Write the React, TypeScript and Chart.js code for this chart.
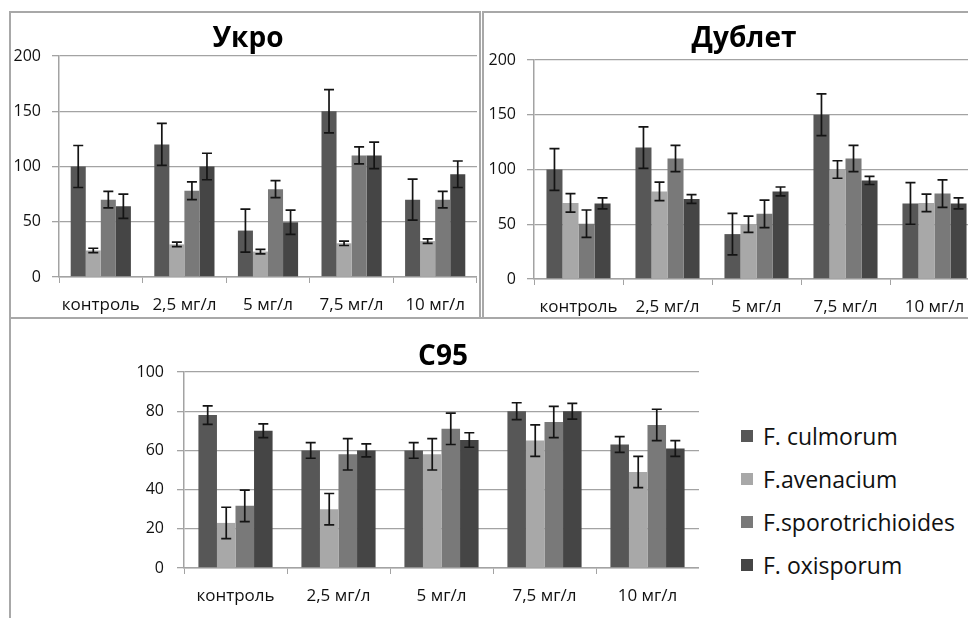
import React, { useEffect, useRef } from "react";
import { Chart, registerables } from "chart.js";

Chart.register(...registerables);

// ---------- data ----------
const categories = ["контроль", "2,5 мг/л", "5 мг/л", "7,5 мг/л", "10 мг/л"];
const seriesNames = ["F. culmorum", "F.avenacium", "F.sporotrichioides", "F. oxisporum"];
const seriesColors = ["#575757", "#a8a8a8", "#797979", "#454545"];

// Укро
const ukroCulmorum = [100, 120, 42, 150, 70];
const ukroCulmorumErr = [19, 19, 19.5, 19.5, 18.5];
const ukroAvenacium = [24, 29.5, 23, 30.5, 32.5];
const ukroAvenaciumErr = [2, 2, 2, 2, 2];
const ukroSporotrichioides = [70, 78, 79.5, 110, 70];
const ukroSporotrichioidesErr = [7.5, 8, 7.7, 7.7, 7.5];
const ukroOxisporum = [64, 100, 49.5, 110, 93];
const ukroOxisporumErr = [11, 12, 11, 12, 12];

// Дублет
const dubletCulmorum = [100, 120, 41, 150, 69];
const dubletCulmorumErr = [19, 19, 19, 19, 19];
const dubletAvenacium = [69.5, 80, 50, 100, 69.5];
const dubletAvenaciumErr = [8.5, 8.5, 7.5, 8, 8];
const dubletSporotrichioides = [50.5, 110, 59.5, 110, 78];
const dubletSporotrichioidesErr = [12.5, 12, 12.5, 12, 12.5];
const dubletOxisporum = [69, 73, 80, 90, 69];
const dubletOxisporumErr = [5, 4, 4, 3.7, 5];

// С95
const c95Culmorum = [78, 60, 60, 80, 63];
const c95CulmorumErr = [4.7, 4, 4, 4.3, 4];
const c95Avenacium = [23, 30, 58, 65, 49];
const c95AvenaciumErr = [8, 8, 8, 8, 8];
const c95Sporotrichioides = [31.7, 58, 71, 74.5, 73];
const c95SporotrichioidesErr = [8, 8, 8, 8, 8];
const c95Oxisporum = [70, 60, 65.3, 80, 61];
const c95OxisporumErr = [3.5, 3.3, 3.7, 4, 4];

const ukroTicks = [0, 50, 100, 150, 200];
const c95Ticks = [0, 20, 40, 60, 80, 100];

const FONT = "'Open Sans', 'Noto Sans', 'DejaVu Sans', sans-serif";
const GRID = "#a3a3a3";
const PAD_TOP = 24;

const errorBarPlugin = {
  id: "errorBars",
  afterDatasetsDraw(chart: any) {
    const ctx = chart.ctx;
    const yScale = chart.scales.y;
    ctx.save();
    ctx.strokeStyle = "#141414";
    ctx.lineWidth = 1.7;
    chart.data.datasets.forEach((ds: any, i: number) => {
      const meta = chart.getDatasetMeta(i);
      meta.data.forEach((el: any, j: number) => {
        const v = ds.data[j];
        const e = ds.errors[j];
        const x = el.x;
        const yt = yScale.getPixelForValue(v + e);
        const yb = yScale.getPixelForValue(v - e);
        ctx.beginPath();
        ctx.moveTo(x, yt);
        ctx.lineTo(x, yb);
        ctx.moveTo(x - 5, yt);
        ctx.lineTo(x + 5, yt);
        ctx.moveTo(x - 5, yb);
        ctx.lineTo(x + 5, yb);
        ctx.stroke();
      });
    });
    ctx.restore();
  },
};

type PanelProps = {
  left: number;
  areaTop: number;
  areaBottom: number;
  width: number;
  values: number[][];
  errors: number[][];
  ticks: number[];
  yPad: number;
};

function ChartPanel({ left, areaTop, areaBottom, width, values, errors, ticks, yPad }: PanelProps) {
  const ref = useRef<HTMLCanvasElement | null>(null);
  const top = areaTop - PAD_TOP;
  const height = areaBottom + 40 - top;
  useEffect(() => {
    if (!ref.current) return;
    const chart = new Chart(ref.current, {
      type: "bar",
      data: {
        labels: categories,
        datasets: values.map((vals, i) => ({
          label: seriesNames[i],
          data: vals,
          errors: errors[i],
          backgroundColor: seriesColors[i],
          borderWidth: 0,
          categoryPercentage: 0.72,
          barPercentage: 1,
        })) as any,
      },
      options: {
        responsive: false,
        animation: false,
        layout: { padding: { top: PAD_TOP, left: 0, right: 0, bottom: 0 } },
        plugins: { legend: { display: false }, title: { display: false }, tooltip: { enabled: false } },
        scales: {
          x: {
            grid: { drawOnChartArea: false, drawTicks: true, tickLength: 6, color: GRID, offset: true },
            border: { color: GRID, width: 1.5 },
            ticks: { font: { family: FONT, size: 17 }, color: "#111", padding: 12, maxRotation: 0, autoSkip: false },
            afterFit: (s: any) => {
              s.height = 40;
            },
          },
          y: {
            min: ticks[0],
            max: ticks[ticks.length - 1],
            afterBuildTicks: (s: any) => {
              s.ticks = ticks.map((v) => ({ value: v }));
            },
            grid: { color: GRID, tickLength: 7, lineWidth: 1.3 },
            border: { color: GRID, width: 1.5 },
            ticks: { font: { family: FONT, size: 16 }, color: "#111", padding: yPad },
            afterFit: (s: any) => {
              s.width = 50;
            },
          },
        },
      },
      plugins: [errorBarPlugin],
    });
    return () => chart.destroy();
  }, []);
  return (
    <canvas
      ref={ref}
      width={width}
      height={height}
      style={{ position: "absolute", left, top, width, height, display: "block" }}
    />
  );
}

const titleStyle = (x: number, top: number): React.CSSProperties => ({
  position: "absolute",
  left: x,
  top,
  transform: "translateX(-50%)",
  fontFamily: FONT,
  fontWeight: 700,
  fontSize: 28,
  lineHeight: "28px",
  color: "#000",
  whiteSpace: "nowrap",
});

const border = "2px solid #a8a8a8";

export default function App() {
  return (
    <div
      style={{
        position: "absolute",
        left: 0,
        top: 0,
        width: 968,
        height: 618,
        overflow: "hidden",
        background: "#fff",
      }}
    >
      <div style={{ position: "absolute", left: 9, top: 11, width: 472, height: 308, border, boxSizing: "border-box" }} />
      <div style={{ position: "absolute", left: 482, top: 11, width: 600, height: 308, border, boxSizing: "border-box" }} />
      <div style={{ position: "absolute", left: 9, top: 317, width: 1000, height: 400, border, boxSizing: "border-box" }} />

      <ChartPanel
        left={9}
        areaTop={56}
        areaBottom={277}
        width={468}
        values={[ukroCulmorum, ukroAvenacium, ukroSporotrichioides, ukroOxisporum]}
        errors={[ukroCulmorumErr, ukroAvenaciumErr, ukroSporotrichioidesErr, ukroOxisporumErr]}
        ticks={ukroTicks}
        yPad={11}
      />
      <ChartPanel
        left={484}
        areaTop={60}
        areaBottom={279}
        width={495}
        values={[dubletCulmorum, dubletAvenacium, dubletSporotrichioides, dubletOxisporum]}
        errors={[dubletCulmorumErr, dubletAvenaciumErr, dubletSporotrichioidesErr, dubletOxisporumErr]}
        ticks={ukroTicks}
        yPad={11}
      />
      <ChartPanel
        left={134}
        areaTop={372}
        areaBottom={568}
        width={565}
        values={[c95Culmorum, c95Avenacium, c95Sporotrichioides, c95Oxisporum]}
        errors={[c95CulmorumErr, c95AvenaciumErr, c95SporotrichioidesErr, c95OxisporumErr]}
        ticks={c95Ticks}
        yPad={13}
      />

      <div style={titleStyle(248, 22)}>Укро</div>
      <div style={titleStyle(744, 22)}>Дублет</div>
      <div style={titleStyle(443, 340)}>С95</div>

      <div style={{ position: "absolute", left: 741, top: 414, fontFamily: FONT, fontSize: 23, color: "#111" }}>
        {seriesNames.map((name, i) => (
          <div key={name} style={{ display: "flex", alignItems: "center", height: 43 }}>
            <span
              style={{
                display: "inline-block",
                width: 12,
                height: 12,
                background: seriesColors[i],
                marginRight: 10,
              }}
            />
            <span style={{ lineHeight: "30px" }}>{name}</span>
          </div>
        ))}
      </div>
    </div>
  );
}
